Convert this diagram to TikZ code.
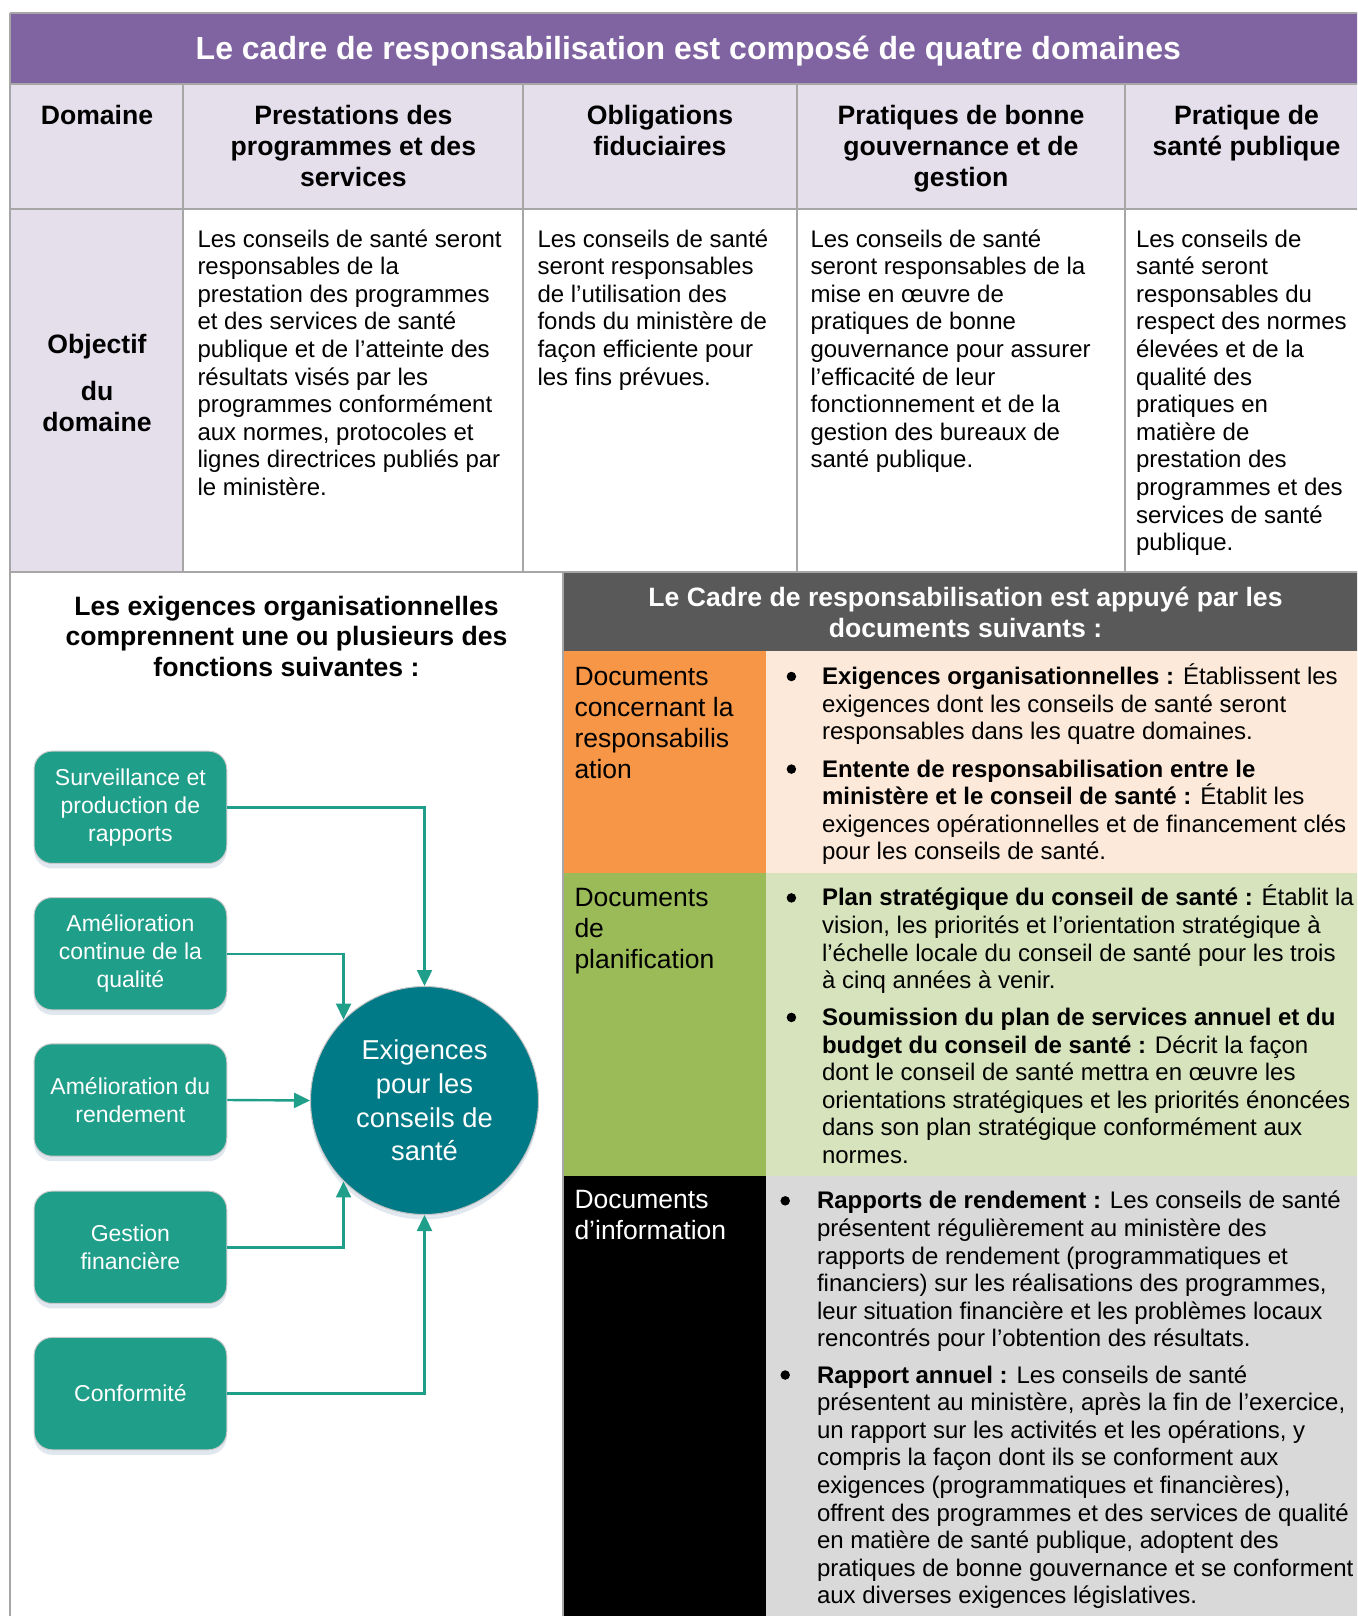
\documentclass[tikz,border=0pt]{standalone}
\usepackage{fontspec}
\setmainfont{Liberation Sans}
\usetikzlibrary{arrows.meta,shadows}
\definecolor{purp}{HTML}{8064A2}
\definecolor{lav}{HTML}{E5DFEC}
\definecolor{gridc}{HTML}{A6A6A6}
\definecolor{dgrey}{HTML}{595959}
\definecolor{orng}{HTML}{F79646}
\definecolor{lorng}{HTML}{FDE9D9}
\definecolor{grn}{HTML}{9BBB59}
\definecolor{lgrn}{HTML}{D7E3BC}
\definecolor{lgry}{HTML}{D9D9D9}
\definecolor{tealbox}{HTML}{1F9E89}
\definecolor{tealcirc}{HTML}{007A87}
\definecolor{shadc}{HTML}{9AAFC8}
\newcommand\myTitleFont{\fontsize{32}{38}\selectfont\bfseries}
\newcommand\myHeadFont{\fontsize{26.6}{31}\selectfont\bfseries}
\newcommand\myLeftHeadFont{\fontsize{26.6}{30.4}\selectfont\bfseries}
\newcommand\myBodyFont{\fontsize{24}{27.6}\selectfont}
\newcommand\myLabFont{\fontsize{26.5}{30.9}\selectfont}
\newcommand\myBoxFont{\fontsize{23}{27.8}\selectfont}
\newcommand\myCircFont{\fontsize{27.3}{33.7}\selectfont}
\newcommand\myStrut{\rule{0pt}{1em}}
\begin{document}
\begin{tikzpicture}[x=1pt,y=-1pt,
  gridline/.style={draw=gridc,line width=2pt},
  head/.style={inner sep=0pt,outer sep=0pt,anchor=north,align=center,font=\myHeadFont},
  para/.style={inner sep=0pt,outer sep=0pt,anchor=north west,align=left,font=\myBodyFont},
  lab/.style={inner sep=0pt,outer sep=0pt,anchor=north west,align=left,font=\myLabFont},
  bul/.style={circle,fill=black,inner sep=0pt,outer sep=0pt,minimum size=9.5pt},
  fnbox/.style={rectangle,rounded corners=18pt,fill=tealbox,draw=gridc!60,line width=1pt,
     minimum width=192.7pt,minimum height=112.3pt,text=white,align=center,font=\myBoxFont,inner sep=0pt,
     drop shadow={shadow xshift=0pt,shadow yshift=-5pt,opacity=0.3,fill=shadc}},
  circ/.style={circle,fill=tealcirc,draw=gridc!70,line width=1pt,minimum size=228pt,inner sep=0pt,
     text=white,align=center,font=\myCircFont,
     drop shadow={shadow xshift=0pt,shadow yshift=-5pt,opacity=0.3,fill=shadc}},
  arr/.style={draw=tealbox,line width=2.4pt,-{Triangle[length=16pt,width=15pt]}}
]
\useasboundingbox (0,0) rectangle (1357,1616);
\begin{scope}
\clip (0,0) rectangle (1357,1616);
% fills
\fill[purp] (10.3,13.4) rectangle (1367,84.5);
\fill[lav] (10.3,84.5) rectangle (1367,209);
\fill[lav] (10.3,209) rectangle (183.4,571.9);
\fill[dgrey] (562.6,571.9) rectangle (1367,651.2);
\fill[orng] (562.6,651.2) rectangle (765.6,872.8);
\fill[lorng] (765.6,651.2) rectangle (1367,872.8);
\fill[grn] (562.6,872.8) rectangle (765.6,1175.7);
\fill[lgrn] (765.6,872.8) rectangle (1367,1175.7);
\fill[black] (562.6,1175.7) rectangle (765.6,1620);
\fill[lgry] (765.6,1175.7) rectangle (1367,1620);
% grid
\draw[gridline] (10.3,13.4) -- (1367,13.4);
\draw[gridline] (10.3,13.4) -- (10.3,1620);
\draw[gridline] (10.3,84.5) -- (1367,84.5);
\draw[gridline] (10.3,209) -- (1367,209);
\draw[gridline] (10.3,571.9) -- (1367,571.9);
\foreach \cx in {183.4,523.4,796.5,1125.2} \draw[gridline] (\cx,84.5) -- (\cx,571.9);
\draw[gridline] (562.6,571.9) -- (562.6,1620);
\end{scope}

% title
\node[inner sep=0pt,anchor=base,text=white,font=\myTitleFont] (title) at (688.3,60) {Le cadre de responsabilisation est composé de quatre domaines};

% header row
\node[head] (hd0) at (97,98.1) {\myStrut Domaine};
\node[head] (hd1) at (353.4,98.1) {\myStrut Prestations des\\programmes et des\\services};
\node[head] (hd2) at (660,98.1) {\myStrut Obligations\\fiduciaires};
\node[head] (hd3) at (961,98.1) {\myStrut Pratiques de bonne\\gouvernance et de\\gestion};
\node[head] (hd4) at (1246.5,98.1) {\myStrut Pratique de\\santé publique};

% body row
\node[head] (obj) at (97,326.9) {\myStrut Objectif\\[16.4pt]du\\domaine};
\node[para] (p1) at (197.5,223) {\myStrut Les conseils de santé seront\\responsables de la\\prestation des programmes\\et des services de santé\\publique et de l’atteinte des\\résultats visés par les\\programmes conformément\\aux normes, protocoles et\\lignes directrices publiés par\\le ministère.};
\node[para] (p2) at (537.5,223) {\myStrut Les conseils de santé\\seront responsables\\de l’utilisation des\\fonds du ministère de\\façon efficiente pour\\les fins prévues.};
\node[para] (p3) at (810.5,223) {\myStrut Les conseils de santé\\seront responsables de la\\mise en œuvre de\\pratiques de bonne\\gouvernance pour assurer\\l’efficacité de leur\\fonctionnement et de la\\gestion des bureaux de\\santé publique.};
\node[para] (p4) at (1136,223) {\myStrut Les conseils de\\santé seront\\responsables du\\respect des normes\\élevées et de la\\qualité des\\pratiques en\\matière de\\prestation des\\programmes et des\\services de santé\\publique.};

% left panel heading
\node[head,font=\myLeftHeadFont] (lhead) at (286.5,588.6) {\myStrut Les exigences organisationnelles\\comprennent une ou plusieurs des\\fonctions suivantes :};

% diagram
\node[fnbox] (b1) at (130.4,807.3) {Surveillance et\\production de\\rapports};
\node[fnbox] (b2) at (130.4,953.7) {Amélioration\\continue de la\\qualité};
\node[fnbox] (b3) at (130.4,1100) {Amélioration du\\rendement};
\node[fnbox] (b4) at (130.4,1247.3) {Gestion\\financière};
\node[fnbox] (b5) at (130.4,1393.6) {Conformité};
\node[circ] (c) at (424.5,1100.5) {Exigences\\pour les\\conseils de\\santé};
\draw[arr] (b1.east) -| (c.north);
\draw[arr] (b2.east) -| (c.north west);
\draw[arr] (b3.east) -- (c.west);
\draw[arr] (b4.east) -| (c.south west);
\draw[arr] (b5.east) -| (c.south);

% right panel
\node[head,text=white] (rhead) at (965.5,580.3) {\myStrut Le Cadre de responsabilisation est appuyé par les\\documents suivants :};

\node[lab] (lo) at (574.5,658.8) {\myStrut Documents\\concernant la\\responsabilis\\ation};
\node[lab] (lg) at (574.5,880.3) {\myStrut Documents\\de\\planification};
\node[lab,text=white] (lk) at (574.5,1182.2) {\myStrut Documents\\d’information};

\node[bul] (o1b) at (791.4,676.5) {};
\node[para] (o1) at (822,660.5) {\myStrut{\bfseries Exigences organisationnelles :} Établissent les\\exigences dont les conseils de santé seront\\responsables dans les quatre domaines.};
\node[bul] (o2b) at (791.4,769.1) {};
\node[para] (o2) at (822,753.1) {\myStrut{\bfseries Entente de responsabilisation entre le}\\{\bfseries ministère et le conseil de santé :} Établit les\\exigences opérationnelles et de financement clés\\pour les conseils de santé.};

\node[bul] (g1b) at (791.4,897.9) {};
\node[para] (g1) at (822,881.9) {\myStrut{\bfseries Plan stratégique du conseil de santé :} Établit la\\vision, les priorités et l’orientation stratégique à\\l’échelle locale du conseil de santé pour les trois\\à cinq années à venir.};
\node[bul] (g2b) at (791.4,1017.4) {};
\node[para] (g2) at (822,1001.4) {\myStrut{\bfseries Soumission du plan de services annuel et du}\\{\bfseries budget du conseil de santé :} Décrit la façon\\dont le conseil de santé mettra en œuvre les\\orientations stratégiques et les priorités énoncées\\dans son plan stratégique conformément aux\\normes.};

\node[bul] (k1b) at (785.2,1200.8) {};
\node[para] (k1) at (817,1184.8) {\myStrut{\bfseries Rapports de rendement :} Les conseils de santé\\présentent régulièrement au ministère des\\rapports de rendement (programmatiques et\\financiers) sur les réalisations des programmes,\\leur situation financière et les problèmes locaux\\rencontrés pour l’obtention des résultats.};
\node[bul] (k2b) at (785.2,1375) {};
\node[para] (k2) at (817,1359) {\myStrut{\bfseries Rapport annuel :} Les conseils de santé\\présentent au ministère, après la fin de l’exercice,\\un rapport sur les activités et les opérations, y\\compris la façon dont ils se conforment aux\\exigences (programmatiques et financières),\\offrent des programmes et des services de qualité\\en matière de santé publique, adoptent des\\pratiques de bonne gouvernance et se conforment\\aux diverses exigences législatives.};
\end{tikzpicture}
\end{document}
